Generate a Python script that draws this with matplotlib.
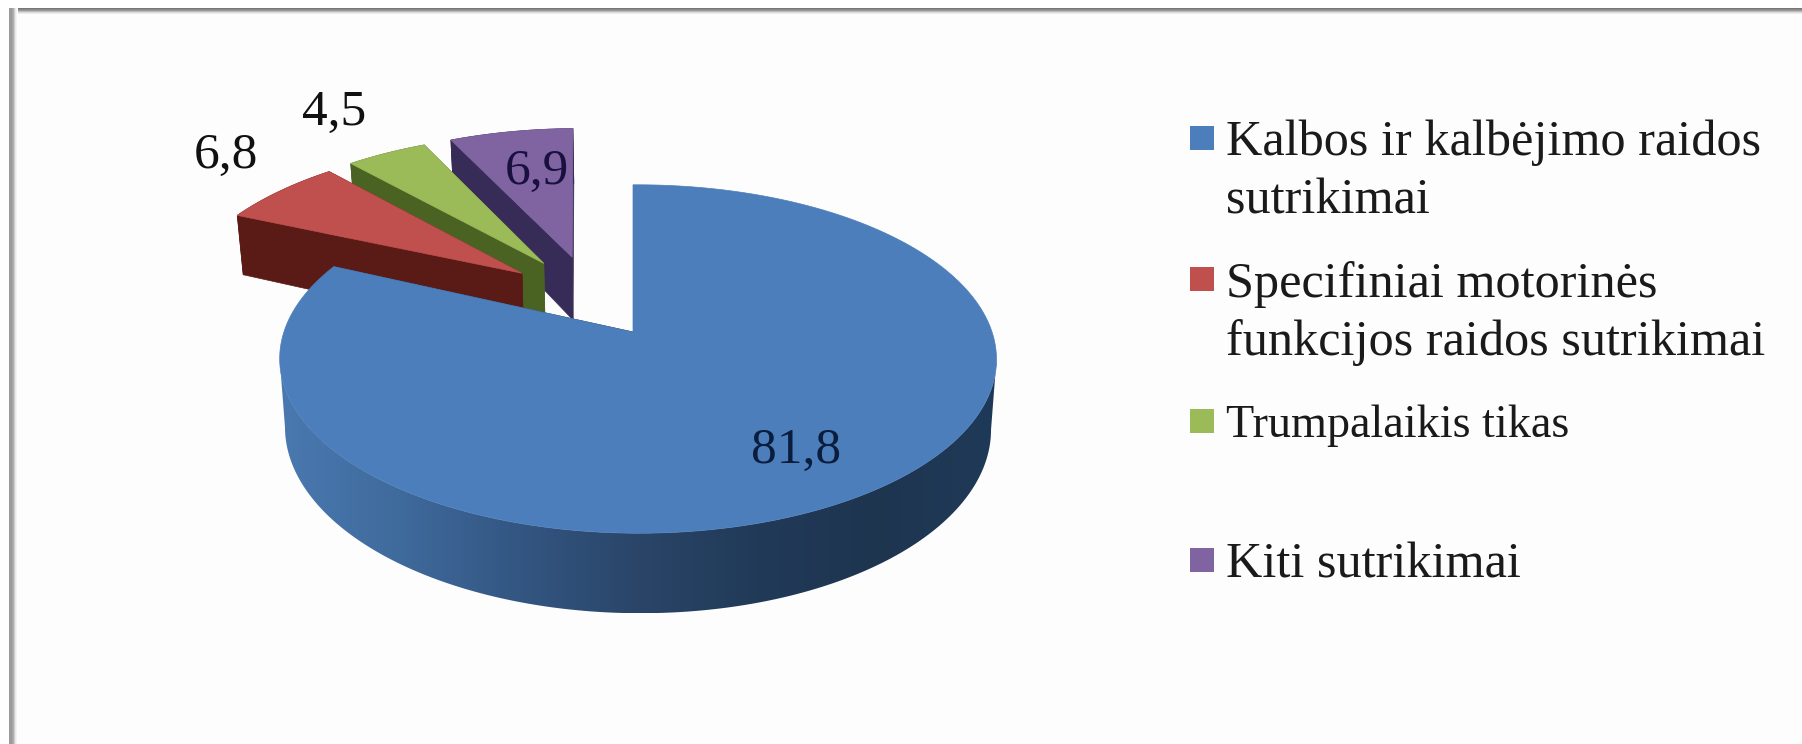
import numpy as np
import matplotlib
matplotlib.use("Agg")
import matplotlib.pyplot as plt
from matplotlib.patches import Polygon, Rectangle
from matplotlib.colors import LinearSegmentedColormap

categories = ["Kalbos ir kalbėjimo raidos\nsutrikimai",
              "Specifiniai motorinės\nfunkcijos raidos sutrikimai",
              "Trumpalaikis tikas",
              "Kiti sutrikimai"]
values = [81.8, 6.8, 4.5, 6.9]
value_labels = ["81,8", "6,8", "4,5", "6,9"]

top_colors = ["#4c7ebb", "#c0504d", "#9bbb59", "#8064a2"]
side_colors = ["#2f4f78", "#5a1b17", "#4a6322", "#372b57"]
explode = [(0.0, 0.0), (-0.333, 0.367), (-0.27, 0.4325), (-0.185, 0.4735)]
rim_shift = [0.0, -0.03, -0.028, -0.024]
label_xy = [(796, 451), (226, 156), (334, 113), (537, 172)]
label_colors = ["#0b1d3d", "#111111", "#111111", "#1a1040"]
legend_y = [138, 279, 421, 560]
legend_text_y = [(155, 214), (297, 355), (437,), (577,)]
legend_sizes = [36.2, 36.2, 33.2, 36.2]

CX, CY, A, B, K, M, DEPTH, NARROW = 633, 332, 354, 170, 0.155, 0.014, 67.6, 0.015

fig = plt.figure(figsize=(18.02, 7.44), dpi=100, facecolor="#fdfdfd")
ax = fig.add_axes([0, 0, 1, 1])
ax.set_xlim(0, 1802)
ax.set_ylim(744, 0)
ax.axis("off")


def proj(x, y, z=0.0):
    w = 1 + K * y + M * (-x)
    sx = A * x / w
    sy = -B * y / w + z * DEPTH / w
    sx = sx * (1 - NARROW * z)
    return CX + sx, CY + sy


def rim(t, off, shift=0.0):
    return off[0] + shift + np.sin(t), off[1] + np.cos(t)


# frame of the picture: soft grey edge on top and left
grey = LinearSegmentedColormap.from_list("g", ["#777777", "#9a9a9a", "#dcdcdc", "#fdfdfd"])
for i in range(7):
    ax.add_patch(Rectangle((0, 8 + i), 1802, 1, fc=grey(i / 6), ec="none", zorder=1))
left_grey = LinearSegmentedColormap.from_list("lg", ["#9a9a9a", "#9a9a9a", "#b0b0b0", "#e8e8e8", "#fdfdfd"])
for i in range(9):
    ax.add_patch(Rectangle((9 + i, 8), 1, 744, fc=left_grey(i / 8), ec="none", zorder=1.5))
ax.add_patch(Rectangle((0, 0), 1802, 8, fc="#ffffff", ec="none", zorder=1.6))
ax.add_patch(Rectangle((0, 0), 9, 744, fc="#ffffff", ec="none", zorder=1.6))

edges = np.cumsum([0] + values) / sum(values) * 2 * np.pi
blue_wall = LinearSegmentedColormap.from_list(
    "bw", ["#4a79b0", "#3f6a9c", "#335682", "#2a4568", "#213a58", "#1e3550", "#1f3a58"])

z = 2
for idx in [3, 2, 1, 0]:
    off = explode[idx]
    shift = rim_shift[idx]
    ts = np.linspace(edges[idx], edges[idx + 1], 240)
    # radial walls
    for t in (edges[idx], edges[idx + 1]):
        x, y = rim(t, off, shift)
        p = [proj(off[0], off[1], 0), proj(x, y, 0), proj(x, y, 1), proj(off[0], off[1], 1)]
        col = side_colors[idx] if idx else "#1e3550"
        ax.add_patch(Polygon(p, fc=col, ec=col, lw=0.5, zorder=z))
        z += 1
    xs, ys = rim(ts, off, shift)
    # outer wall
    if idx == 0:
        # from the rightmost to the leftmost point of the rim, so the band does not fold over itself
        scan = np.linspace(edges[0], edges[1], 4000)
        sx_scan = proj(*rim(scan, off, shift))[0]
        front = np.linspace(scan[np.argmax(sx_scan)], scan[np.argmin(sx_scan)], 400)
        fx, fy = rim(front, off, shift)
        wall = [proj(a, b, 0) for a, b in zip(fx, fy)] + [proj(a, b, 1) for a, b in zip(fx[::-1], fy[::-1])]
        wall_arr = np.array(wall)
        x0, x1 = wall_arr[:, 0].min(), wall_arr[:, 0].max()
        poly = Polygon(wall, fc="none", ec="none", zorder=z)
        ax.add_patch(poly)
        # shade across the width; the array runs left to right on the screen
        grad = np.linspace(0, 1, 512).reshape(1, -1)
        im = ax.imshow(grad, cmap=blue_wall, extent=(x0, x1, wall_arr[:, 1].max(), wall_arr[:, 1].min()),
                       aspect="auto", zorder=z, interpolation="bilinear")
        im.set_clip_path(poly)
        ax.set_xlim(0, 1802)
        ax.set_ylim(744, 0)
    else:
        wall = [proj(a, b, 0) for a, b in zip(xs, ys)] + [proj(a, b, 1) for a, b in zip(xs[::-1], ys[::-1])]
        ax.add_patch(Polygon(wall, fc=side_colors[idx], ec=side_colors[idx], lw=0.5, zorder=z))
    z += 1
    # top face
    pts = [proj(off[0], off[1])] + [proj(a, b) for a, b in zip(xs, ys)]
    ax.add_patch(Polygon(pts, fc=top_colors[idx], ec=top_colors[idx], lw=0.5, zorder=z))
    z += 1

serif = ["Liberation Serif", "DejaVu Serif"]
for lab, (lx, ly), col in zip(value_labels, label_xy, label_colors):
    ax.text(lx, ly, lab, family=serif, fontsize=37, color=col, ha="center", va="center", zorder=z + 1)

for name, c, cy, tys, fs in zip(categories, top_colors, legend_y, legend_text_y, legend_sizes):
    ax.add_patch(Rectangle((1190, cy - 12), 24, 24, fc=c, ec="none", zorder=z))
    for line, ty in zip(name.split("\n"), tys):
        ax.text(1226, ty, line, family=serif, fontsize=fs, color="#1a1a1a",
                ha="left", va="baseline", zorder=z + 1)

fig.savefig("out.png", dpi=100, facecolor=fig.get_facecolor())
